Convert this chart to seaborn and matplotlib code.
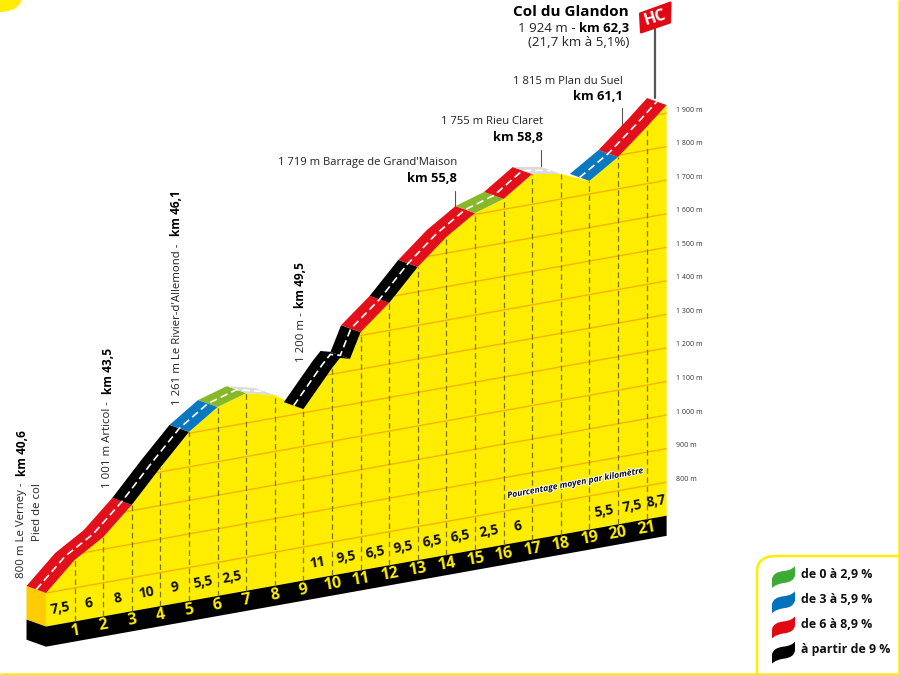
import numpy as np
import matplotlib
matplotlib.use("Agg")
import matplotlib.pyplot as plt
import matplotlib.patheffects as pe
from matplotlib.patches import Polygon, PathPatch, Ellipse
from matplotlib.path import Path
from matplotlib.transforms import Affine2D
import seaborn as sns

# ---------- data ----------
profile_km = [0, 1, 2, 3, 4, 5, 6, 7, 8, 9, 10, 10.28, 10.63, 11, 12, 13, 14, 15, 16, 17, 18, 19, 20, 21, 21.7]
profile_m = [800, 883, 936, 1017, 1113, 1204, 1263, 1289, 1268, 1211, 1318, 1344, 1336, 1410, 1482,
             1574, 1648, 1704, 1731, 1790, 1775, 1739, 1795, 1869, 1924]
seg_start = [0, 3, 5, 6, 7, 9, 10.63, 11, 12, 13, 15, 16, 17, 19, 20]
seg_end = [3, 5, 6, 7, 8, 10.63, 11, 12, 13, 15, 16, 17, 18, 20, 21.7]
seg_class = ["red", "black", "blue", "green", "grey", "black", "black", "red", "black", "red",
             "green", "red", "grey", "blue", "red"]
class_colour = {"red": "#E2101A", "black": "#000000", "blue": "#0A78BE", "green": "#86B82A", "grey": "#DADADA"}
grade_km = [1, 2, 3, 4, 5, 6, 7, 10, 11, 12, 13, 14, 15, 16, 17, 20, 21, 22]
grade_txt = ["7,5", "6", "8", "10", "9", "5,5", "2,5", "11", "9,5", "6,5", "9,5", "6,5", "6,5", "2,5", "6",
             "5,5", "7,5", "8,7"]
km_ticks = list(range(1, 22))
elev_ticks = list(range(800, 2000, 100))
elev_labels = ["800 m", "900 m", "1 000 m", "1 100 m", "1 200 m", "1 300 m", "1 400 m", "1 500 m",
               "1 600 m", "1 700 m", "1 800 m", "1 900 m"]
legend_labels = ["de 0 à 2,9 %", "de 3 à 5,9 %", "de 6 à 8,9 %", "à partir de 9 %"]
legend_colours = ["#3DAA35", "#0072BC", "#E30613", "#000000"]

# ---------- style ----------
FINISH = 21.7
BASE = 700
BAND = 60
KM_W, M_H = 28.6, 0.3355
SKEW = 0.1786 * KM_W / M_H  # metres of rise of the baseline per km
DKM = -19.5 / KM_W
DM = 7 / M_H + SKEW * 19.5 / KM_W

SANS = "Open Sans"

sns.set_theme(style="white")
plt.rcParams["font.family"] = [SANS, "DejaVu Sans"]

fig = plt.figure(figsize=(9, 6.75), dpi=100, facecolor="white")
ax = fig.add_axes([0, 0, 1, 1])
ax.set_axis_off()
ax.set_xlim(-46 / KM_W, (900 - 46) / KM_W)
ax.set_ylim(800 - (675 - 593) / M_H, 800 + 593 / M_H)

tr = Affine2D.from_values(1, SKEW, 0, 1, 0, 0) + ax.transData  # km / metres, on the oblique baseline
px = Affine2D().scale(1 / 900, -1 / 675).translate(0, 1) + fig.transFigure  # picture positions for annotations

km = np.array(profile_km, float)
m = np.array(profile_m, float)


def elev(k):
    return np.interp(k, km, m)


def stretch(a, b):
    inner = km[(km > a) & (km < b)]
    k = np.r_[a, inner, b]
    return k, elev(k)


# front of the massif
ke = np.r_[km, FINISH, 0]
me = np.r_[m, BASE, BASE]
massif = Polygon(np.c_[ke, me], closed=True, fc="#FFED00", ec="none", transform=tr, zorder=1)
ax.add_patch(massif)

# left face and black band
ax.add_patch(Polygon([[0, BASE], [0, 800], [DKM, 800 + DM], [DKM, BASE + DM]], fc="#FFCB05", ec="none",
                     transform=tr, zorder=1))
ax.add_patch(Polygon([[0, BASE - BAND], [0, BASE], [DKM, BASE + DM], [DKM, BASE + DM - BAND]], fc="black",
                     ec="none", transform=tr, zorder=1))
ax.add_patch(Polygon([[0, BASE], [FINISH, BASE], [FINISH, BASE - BAND], [0, BASE - BAND]], fc="black",
                     ec="none", transform=tr, zorder=1))

# altitude grid
for e in elev_ticks:
    sns.lineplot(x=[0, FINISH], y=[e, e], color="#F5B400", lw=1.0, ax=ax, transform=tr, zorder=2,
                 legend=False, sort=False, estimator=None)
    ax.lines[-1].set_clip_path(massif)

# kilometre posts
for k in km_ticks:
    sns.lineplot(x=[k, k], y=[BASE, elev(k)], color="#7A7420", lw=0.9, ax=ax, transform=tr, zorder=2,
                 legend=False, sort=False, estimator=None)
    ax.lines[-1].set_linestyle((0, (4.5, 2.8)))

# road ribbon
for a, b, c in zip(seg_start, seg_end, seg_class):
    k, h = stretch(a, b)
    pts = np.r_[np.c_[k, h], np.c_[k[::-1] + DKM, h[::-1] + DM]]
    ax.add_patch(Polygon(pts, closed=True, fc=class_colour[c], ec="none", transform=tr, zorder=3))

# dashed centre line of the road
for a, b in [(0, 8), (9, 18), (19, FINISH)]:
    k, h = stretch(a, b)
    sns.lineplot(x=k + DKM / 2, y=h + DM / 2, color="white", lw=1.2, ax=ax, transform=tr, zorder=4,
                 legend=False, sort=False, estimator=None)
    ax.lines[-1].set_linestyle((0, (4.5, 2.5)))

# numbers on the massif and on the band
ROT = 10.1
for k, t in zip(grade_km, grade_txt):
    pos = k - 0.5 if k < 22 else 21.35
    ax.text(pos, BASE + 47, t, transform=tr, rotation=ROT, rotation_mode="anchor", ha="center", va="center",
            weight="bold", size=10, color="#111111", zorder=5)
for k in km_ticks:
    ax.text(k, BASE - 28, str(k), transform=tr, rotation=ROT, rotation_mode="anchor", ha="center", va="center",
            weight="bold", size=11.5, color="#FFED00", zorder=5)

# altitude scale
for e, t in zip(elev_ticks, elev_labels):
    ax.text(22.02, e + 4, t, transform=tr, ha="left", va="center", size=5, color="#333333", zorder=5)

# rotated "Pourcentage moyen" caption
ax.text(18.5, 846, "Pourcentage moyen par kilomètre", transform=tr, rotation=10.5, rotation_mode="anchor",
        ha="center", va="center", weight="bold", style="italic", size=6.2, color="#111111",
        zorder=5, path_effects=[pe.withStroke(linewidth=1.4, foreground="white")])


def vlabel(x, y0, y1, reg, bold):
    ax.text(x, y0, reg, transform=px, rotation=90, ha="center", va="bottom", size=8.2, color="#222222")
    ax.text(x, y1, bold, transform=px, rotation=90, ha="center", va="top", size=8.6, weight="bold", color="black")


vlabel(22, 578, 430, "800 m Le Verney -", "km 40,6")
ax.text(38, 512, "Pied de col", transform=px, rotation=90, ha="center", va="center", size=8.2, color="#222222")
vlabel(108, 488, 348, "1 001 m Articol -", "km 43,5")
vlabel(177, 405, 190, "1 261 m Le Rivier-d'Allemond -", "km 46,1")
vlabel(301, 362, 262, "1 200 m -", "km 49,5")


def hlabel(x, y, reg, bold):
    ax.text(x, y, reg, transform=px, ha="right", va="center", size=8.15, color="#222222")
    ax.text(x, y + 15.5, bold, transform=px, ha="right", va="center", size=9.3, weight="bold", color="black")


hlabel(623, 81, "1 815 m Plan du Suel", "km 61,1")
hlabel(543, 122, "1 755 m Rieu Claret", "km 58,8")
hlabel(457, 163, "1 719 m Barrage de Grand'Maison", "km 55,8")

# leaders and summit pole
for x, y0, y1 in [(622, 108, 126), (541, 150, 166), (455, 191, 207)]:
    ax.plot([x, x], [y0, y1], color="#555555", lw=0.8, transform=px, zorder=2)
ax.plot([655, 655], [28, 98], color="#555555", lw=1.6, transform=px, zorder=2)

# summit block
ax.text(629, 12, "Col du Glandon", transform=px, ha="right", va="center", size=11, weight="bold", color="black")
ax.text(629, 28, "km 62,3", transform=px, ha="right", va="center", size=9.4, weight="bold", color="black")
ax.text(575, 28, "1 924 m -", transform=px, ha="right", va="center", size=9.6, color="#222222")
ax.text(629, 42, "(21,7 km à 5,1%)", transform=px, ha="right", va="center", size=9.6, color="#222222")

# HC flag
ax.add_patch(Polygon([[640, 13.5], [670.5, 2.5], [670, 22.5], [641, 32.5]], closed=True, fc="#E30613",
                     ec="#E30613", lw=1.5, joinstyle="round", transform=px, zorder=4))
ax.text(655.5, 17.5, "HC", transform=px, rotation=17, rotation_mode="anchor", ha="center", va="center",
        weight="bold", size=11.5, color="white", zorder=5)

# frame and legend panel
yl = "#FFED00"
ax.plot([0, 899], [673.7, 673.7], color=yl, lw=1.8, transform=px, zorder=6, solid_capstyle="butt")
ax.plot([898.5, 898.5], [0, 675], color=yl, lw=1.8, transform=px, zorder=6, solid_capstyle="butt")
panel = Path([(757, 674), (757, 572), (757, 556), (776, 556), (899, 556)],
             [Path.MOVETO, Path.LINETO, Path.CURVE3, Path.CURVE3, Path.LINETO])
ax.add_patch(PathPatch(panel, fc="none", ec=yl, lw=1.8, transform=px, zorder=6))
ax.add_patch(Ellipse((0, 0), 42, 24, fc=yl, ec="none", transform=px, zorder=6))

# legend
for i, (lab, col) in enumerate(zip(legend_labels, legend_colours)):
    y = 577 + i * 25.2
    leaf = Path([(772, y + 11), (772, y + 2), (773, y - 5), (784, y - 6), (792, y - 7), (795, y - 11),
                 (795, y - 2), (794, y + 5), (784, y + 6), (776, y + 7), (772, y + 11)],
                [Path.MOVETO, Path.LINETO, Path.CURVE3, Path.CURVE3, Path.CURVE3, Path.CURVE3,
                 Path.LINETO, Path.CURVE3, Path.CURVE3, Path.CURVE3, Path.CURVE3])
    ax.add_patch(PathPatch(leaf, fc=col, ec="none", transform=px, zorder=5))
    ax.text(801, y - 3, lab, transform=px, ha="left", va="center", weight="bold", size=8.9,
            color="#111111", zorder=5)

ax.set_xlim(-46 / KM_W, (900 - 46) / KM_W)
ax.set_ylim(800 - (675 - 593) / M_H, 800 + 593 / M_H)
ax.set_xlabel("")
ax.set_ylabel("")
fig.savefig("out.png", dpi=100, facecolor="white")
